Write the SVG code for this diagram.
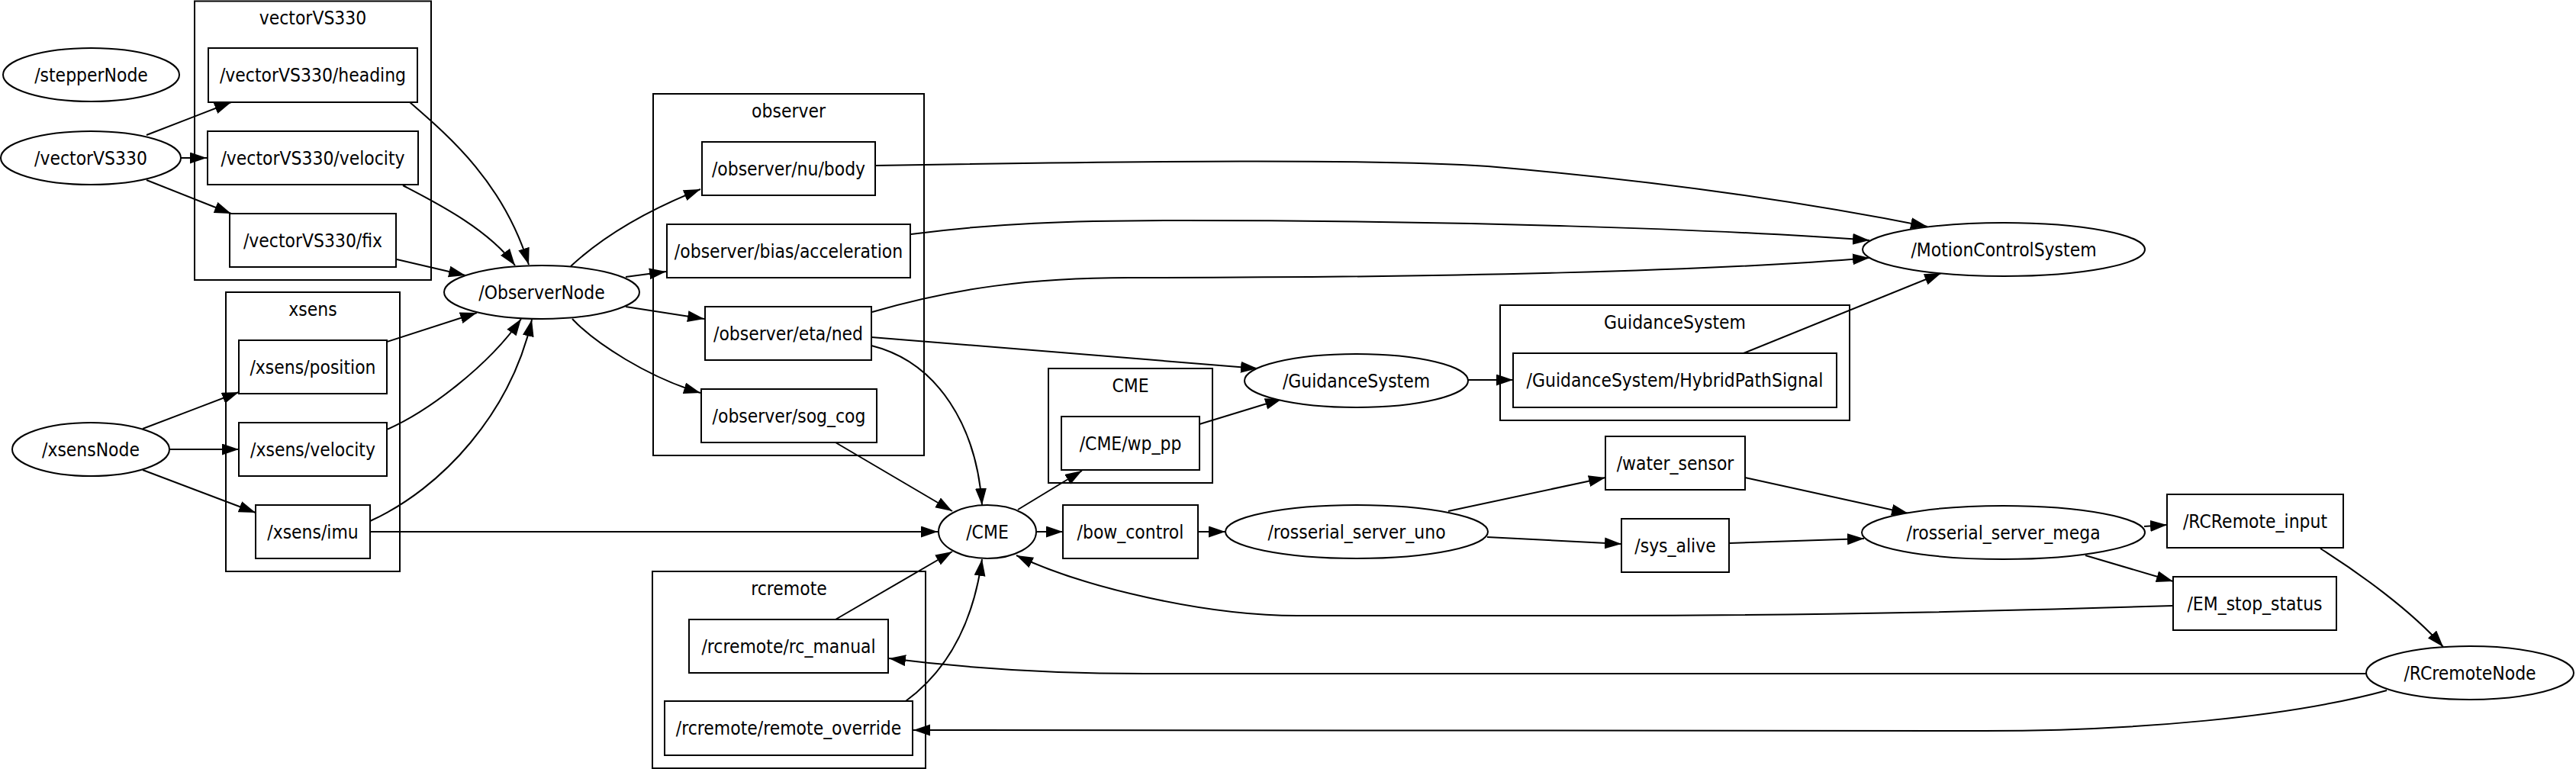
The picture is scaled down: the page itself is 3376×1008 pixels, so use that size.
<svg xmlns="http://www.w3.org/2000/svg" width="3376" height="1008" viewBox="0 0 3376 1008">
<style>
.bg{fill:#fff}
.cl{fill:none;stroke:#000;stroke-width:2}
.nd{fill:#fff;stroke:#000;stroke-width:2}
.e{fill:none;stroke:#000;stroke-width:2}
text{font-family:"DejaVu Sans","Liberation Sans",sans-serif;font-size:24px;fill:#000;text-anchor:middle}
</style>
<defs>
<marker id="ah" markerUnits="userSpaceOnUse" markerWidth="23" markerHeight="16" refX="22" refY="7.5" orient="auto">
<path d="M0,0 L22,7.5 L0,15 Z" fill="#000"/>
</marker>
</defs>
<rect class="bg" x="0" y="0" width="3376" height="1008"/>

<g id="cluster_vectorVS330">
<rect class="cl" x="255" y="1.5" width="310" height="365.5"/>
<text transform="translate(410,32) scale(0.915,1)">vectorVS330</text>
</g>
<g id="cluster_xsens">
<rect class="cl" x="296" y="383" width="228" height="366"/>
<text transform="translate(410,414) scale(0.915,1)">xsens</text>
</g>
<g id="cluster_observer">
<rect class="cl" x="856" y="123" width="355" height="474"/>
<text transform="translate(1033.5,154) scale(0.915,1)">observer</text>
</g>
<g id="cluster_CME">
<rect class="cl" x="1374" y="483" width="215" height="150"/>
<text transform="translate(1481.5,514) scale(0.915,1)">CME</text>
</g>
<g id="cluster_GuidanceSystem">
<rect class="cl" x="1966" y="400" width="458" height="151"/>
<text transform="translate(2195,431) scale(0.915,1)">GuidanceSystem</text>
</g>
<g id="cluster_rcremote">
<rect class="cl" x="855" y="749" width="358" height="258"/>
<text transform="translate(1034,780) scale(0.915,1)">rcremote</text>
</g>

<g id="edges">
<path class="e" marker-end="url(#ah)" d="M192,177 L303,134"/>
<path class="e" marker-end="url(#ah)" d="M237,207 L271,207"/>
<path class="e" marker-end="url(#ah)" d="M192,236 L303,280"/>
<path class="e" marker-end="url(#ah)" d="M537,134 C590,180 660,240 693,347"/>
<path class="e" marker-end="url(#ah)" d="M528,243 C570,265 640,300 675,348"/>
<path class="e" marker-end="url(#ah)" d="M520,340 L610,361"/>
<path class="e" marker-end="url(#ah)" d="M187,562 L313,514"/>
<path class="e" marker-end="url(#ah)" d="M222,589 L313,589"/>
<path class="e" marker-end="url(#ah)" d="M187,616 L335,672"/>
<path class="e" marker-end="url(#ah)" d="M507,448 L625,410"/>
<path class="e" marker-end="url(#ah)" d="M507,563 C560,540 640,480 683,418"/>
<path class="e" marker-end="url(#ah)" d="M485,683 C580,640 670,540 697,419"/>
<path class="e" marker-end="url(#ah)" d="M485,697 L1229,697"/>
<path class="e" marker-end="url(#ah)" d="M748,349 C790,310 850,275 918,248"/>
<path class="e" marker-end="url(#ah)" d="M820,363 L873,356"/>
<path class="e" marker-end="url(#ah)" d="M820,402 L923,418"/>
<path class="e" marker-end="url(#ah)" d="M750,418 C780,450 850,495 918,515"/>
<path class="e" marker-end="url(#ah)" d="M1147,217 C1500,211 1800,208 1950,218 C2150,235 2350,262 2526,297"/>
<path class="e" marker-end="url(#ah)" d="M1194,307 C1300,293 1400,289 1550,289 C1900,289 2250,300 2450,315"/>
<path class="e" marker-end="url(#ah)" d="M1143,409 C1250,378 1350,364 1480,364 C1900,364 2250,355 2450,338"/>
<path class="e" marker-end="url(#ah)" d="M1142,442 L1648,483"/>
<path class="e" marker-end="url(#ah)" d="M1142,453 C1230,475 1280,560 1287,662"/>
<path class="e" marker-end="url(#ah)" d="M1095,580 L1248,670"/>
<path class="e" marker-end="url(#ah)" d="M1334,668 L1418,617"/>
<path class="e" marker-end="url(#ah)" d="M1572,556 L1680,523"/>
<path class="e" marker-end="url(#ah)" d="M1358,697 L1393,697"/>
<path class="e" marker-end="url(#ah)" d="M1570,697 L1606,697"/>
<path class="e" marker-end="url(#ah)" d="M1924,498 L1983,498"/>
<path class="e" marker-end="url(#ah)" d="M2285,463 L2544,358"/>
<path class="e" marker-end="url(#ah)" d="M1898,670 L2104,626"/>
<path class="e" marker-end="url(#ah)" d="M1949,704 L2125,713"/>
<path class="e" marker-end="url(#ah)" d="M2287,626 L2501,673"/>
<path class="e" marker-end="url(#ah)" d="M2266,712 L2443,706"/>
<path class="e" marker-end="url(#ah)" d="M2810,690 L2840,688"/>
<path class="e" marker-end="url(#ah)" d="M2733,728 L2848,762"/>
<path class="e" marker-end="url(#ah)" d="M3041,719 C3090,750 3160,800 3202,848"/>
<path class="e" marker-end="url(#ah)" d="M2848,794 C2650,800 2400,807 2100,807 L1700,807 C1580,807 1420,770 1332,728"/>
<path class="e" marker-end="url(#ah)" d="M3101,883 L1500,883 C1380,883 1260,875 1165,863"/>
<path class="e" marker-end="url(#ah)" d="M3128,905 C3000,940 2800,958 2600,958 L1197,957"/>
<path class="e" marker-end="url(#ah)" d="M1095,812 L1248,723"/>
<path class="e" marker-end="url(#ah)" d="M1187,919 C1240,880 1275,820 1287,733"/>
</g>

<g id="n_stepperNode"><ellipse class="nd" cx="119.5" cy="98" rx="115.5" ry="35"/><text transform="translate(119.5,106.5) scale(0.915,1)">/stepperNode</text></g>
<g id="n_vectorVS330"><ellipse class="nd" cx="119" cy="207" rx="118" ry="35"/><text transform="translate(119,215.5) scale(0.915,1)">/vectorVS330</text></g>
<g id="n_xsensNode"><ellipse class="nd" cx="119" cy="589" rx="103" ry="35"/><text transform="translate(119,597.5) scale(0.915,1)">/xsensNode</text></g>
<g id="n_ObserverNode"><ellipse class="nd" cx="710" cy="383" rx="128" ry="35"/><text transform="translate(710,391.5) scale(0.915,1)">/ObserverNode</text></g>
<g id="n_CME"><ellipse class="nd" cx="1294" cy="697" rx="64" ry="35"/><text transform="translate(1294,705.5) scale(0.915,1)">/CME</text></g>
<g id="n_GuidanceSystem"><ellipse class="nd" cx="1777.5" cy="499" rx="146.5" ry="35"/><text transform="translate(1777.5,507.5) scale(0.915,1)">/GuidanceSystem</text></g>
<g id="n_rosserial_server_uno"><ellipse class="nd" cx="1778" cy="697" rx="172" ry="35"/><text transform="translate(1778,705.5) scale(0.915,1)">/rosserial_server_uno</text></g>
<g id="n_MotionControlSystem"><ellipse class="nd" cx="2626" cy="327" rx="185" ry="35"/><text transform="translate(2626,335.5) scale(0.915,1)">/MotionControlSystem</text></g>
<g id="n_rosserial_server_mega"><ellipse class="nd" cx="2625.5" cy="698" rx="185.5" ry="35"/><text transform="translate(2625.5,706.5) scale(0.915,1)">/rosserial_server_mega</text></g>
<g id="n_RCremoteNode"><ellipse class="nd" cx="3237" cy="882" rx="136" ry="35"/><text transform="translate(3237,890.5) scale(0.915,1)">/RCremoteNode</text></g>

<g id="t_vectorVS330_heading"><rect class="nd" x="273" y="63" width="274" height="71"/><text transform="translate(410,107) scale(0.915,1)">/vectorVS330/heading</text></g>
<g id="t_vectorVS330_velocity"><rect class="nd" x="272" y="172" width="276" height="70"/><text transform="translate(410,215.5) scale(0.915,1)">/vectorVS330/velocity</text></g>
<g id="t_vectorVS330_fix"><rect class="nd" x="301" y="280" width="218" height="70"/><text transform="translate(410,323.5) scale(0.915,1)">/vectorVS330/fix</text></g>
<g id="t_xsens_position"><rect class="nd" x="313" y="446" width="194" height="70"/><text transform="translate(410,489.5) scale(0.915,1)">/xsens/position</text></g>
<g id="t_xsens_velocity"><rect class="nd" x="313" y="554" width="194" height="70"/><text transform="translate(410,597.5) scale(0.915,1)">/xsens/velocity</text></g>
<g id="t_xsens_imu"><rect class="nd" x="335" y="662" width="150" height="70"/><text transform="translate(410,705.5) scale(0.915,1)">/xsens/imu</text></g>
<g id="t_observer_nu_body"><rect class="nd" x="920" y="186" width="227" height="70"/><text transform="translate(1033.5,229.5) scale(0.915,1)">/observer/nu/body</text></g>
<g id="t_observer_bias_acceleration"><rect class="nd" x="874" y="294" width="319" height="70"/><text transform="translate(1033.5,337.5) scale(0.915,1)">/observer/bias/acceleration</text></g>
<g id="t_observer_eta_ned"><rect class="nd" x="924" y="402" width="218" height="70"/><text transform="translate(1033,445.5) scale(0.915,1)">/observer/eta/ned</text></g>
<g id="t_observer_sog_cog"><rect class="nd" x="919" y="510" width="230" height="70"/><text transform="translate(1034,553.5) scale(0.915,1)">/observer/sog_cog</text></g>
<g id="t_CME_wp_pp"><rect class="nd" x="1391" y="546" width="181" height="70"/><text transform="translate(1481.5,589.5) scale(0.915,1)">/CME/wp_pp</text></g>
<g id="t_bow_control"><rect class="nd" x="1393" y="662" width="177" height="70"/><text transform="translate(1481.5,705.5) scale(0.915,1)">/bow_control</text></g>
<g id="t_HybridPathSignal"><rect class="nd" x="1983" y="463" width="424" height="71"/><text transform="translate(2195,507) scale(0.915,1)">/GuidanceSystem/HybridPathSignal</text></g>
<g id="t_water_sensor"><rect class="nd" x="2104" y="572" width="183" height="70"/><text transform="translate(2195.5,615.5) scale(0.915,1)">/water_sensor</text></g>
<g id="t_sys_alive"><rect class="nd" x="2125" y="680" width="141" height="70"/><text transform="translate(2195.5,723.5) scale(0.915,1)">/sys_alive</text></g>
<g id="t_RCRemote_input"><rect class="nd" x="2840" y="648" width="231" height="70"/><text transform="translate(2955.5,691.5) scale(0.915,1)">/RCRemote_input</text></g>
<g id="t_EM_stop_status"><rect class="nd" x="2848" y="756" width="214" height="70"/><text transform="translate(2955,799.5) scale(0.915,1)">/EM_stop_status</text></g>
<g id="t_rcremote_rc_manual"><rect class="nd" x="903" y="812" width="261" height="70"/><text transform="translate(1033.5,855.5) scale(0.915,1)">/rcremote/rc_manual</text></g>
<g id="t_rcremote_remote_override"><rect class="nd" x="871" y="919" width="325" height="71"/><text transform="translate(1033.5,963) scale(0.915,1)">/rcremote/remote_override</text></g>
</svg>
